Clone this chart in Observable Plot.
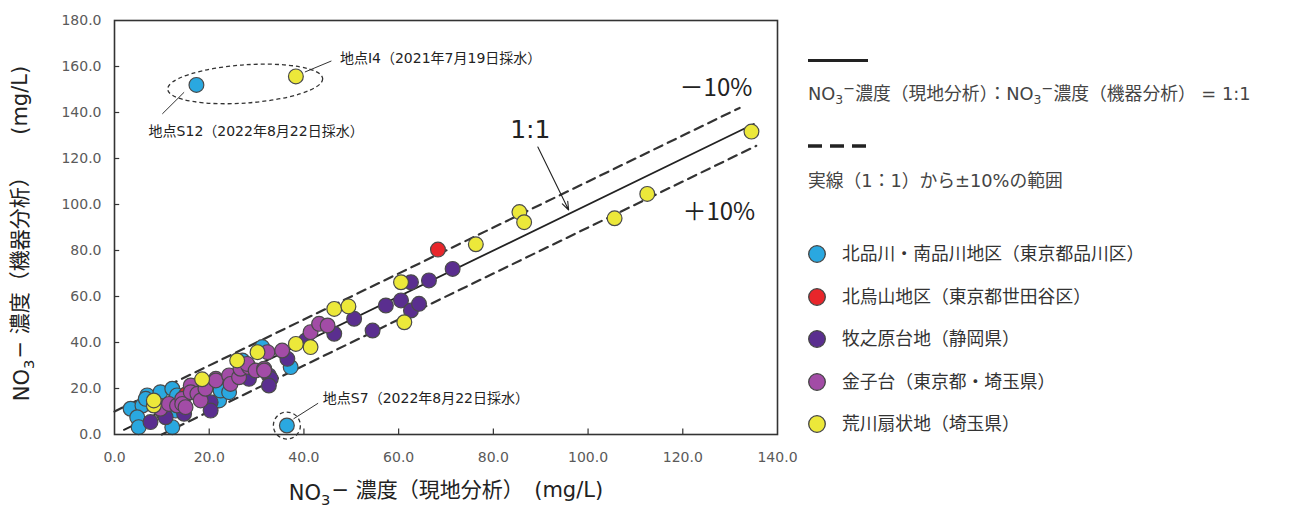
<!DOCTYPE html>
<html><head><meta charset="utf-8">
<script src="https://cdn.jsdelivr.net/npm/d3@7"></script>
<script src="https://cdn.jsdelivr.net/npm/@observablehq/plot@0.6"></script>
<style>
body{margin:0;background:#fff;}
#wrap{position:relative;width:1298px;height:508px;overflow:hidden;}
#legend{position:absolute;left:0;top:0;font-family:"DejaVu Sans","Noto Sans CJK JP",sans-serif;color:#444;}
.lt{position:absolute;white-space:nowrap;font-size:17.8px;line-height:20px;}
.sw{position:absolute;}
sub{font-size:0.7em;vertical-align:-0.3em;line-height:0;}
</style>
</head><body>
<div id="wrap"><div id="chart"></div><div id="legend"></div></div>
<script>
// ---- data ----
const xTicks = [0, 20, 40, 60, 80, 100, 120, 140];
const yTicks = [0, 20, 40, 60, 80, 100, 120, 140, 160, 180];
const groupNames = ["北品川・南品川地区（東京都品川区）", "北烏山地区（東京都世田谷区）", "牧之原台地（静岡県）", "金子台（東京都・埼玉県）", "荒川扇状地（埼玉県）"];
const groupColors = ["#2aa8e0", "#e8262b", "#5a2e8f", "#a24ca6", "#ece83a"];
const shinagawa = [[3.4,11.2],[5.9,12.6],[4.8,7.5],[5.1,3.2],[6.9,17.0],[6.6,15.5],[9.7,18.4],[12.2,19.9],[12.2,3.2],[12.9,10.4],[13.2,17.0],[18.2,22.7],[22.1,14.8],[22.4,19.1],[24.2,18.4],[27.0,32.2],[31.2,38.0],[37.2,29.3],[36.4,3.9],[17.3,152.0]];
const kitakarasuyama = [[15.2,17.6],[68.3,80.4]];
const makinohara = [[7.6,5.4],[10.4,9.0],[10.8,7.5],[14.7,9.0],[20.3,14.0],[20.3,10.4],[28.0,25.7],[32.6,25.7],[33.0,24.2],[32.6,21.3],[28.4,24.2],[36.5,32.9],[40.4,40.9],[46.4,43.8],[50.6,50.3],[54.5,45.2],[57.3,56.1],[60.5,58.3],[62.6,53.9],[64.3,56.8],[62.6,66.2],[66.4,67.0],[71.4,72.0]];
const kanekodai = [[9.4,12.6],[9.7,11.2],[11.5,13.3],[13.2,12.6],[14.3,15.5],[14.3,13.3],[15.0,11.9],[16.1,21.3],[16.1,18.4],[17.5,17.7],[18.2,14.8],[19.2,19.9],[21.4,24.2],[21.4,23.5],[24.2,25.7],[24.5,22.0],[26.3,24.9],[26.6,28.6],[28.4,29.3],[28.0,30.7],[29.8,27.8],[31.6,28.6],[31.6,27.8],[32.3,35.8],[35.4,36.5],[41.4,44.5],[43.2,48.1],[45.0,47.4]];
const arakawa = [[8.3,12.6],[8.3,14.8],[18.5,24.0],[25.9,32.2],[30.2,35.8],[38.3,39.4],[41.4,38.0],[46.4,54.6],[49.4,55.7],[60.5,66.2],[61.2,48.8],[76.3,82.7],[85.5,96.7],[86.5,92.3],[105.6,94.0],[112.5,104.6],[134.5,131.7],[38.3,155.7]];
const groups = [shinagawa, kitakarasuyama, makinohara, kanekodai, arakawa];
const lineSolid = [[2, 2], [135, 135]];
const lineUpper = [[0, 10], [132, 142]];
const lineLower = [[10, 0], [135.5, 125.5]];

// ---- table ----
const table = groups.flatMap((g, i) => g.map(([x, y]) => ({x, y, group: groupNames[i]})));
const toXY = a => a.map(([x, y]) => ({x, y}));

// ellipse around S12 & I4 (custom mark using scales)
function ellipseMark(index, scales) {
  const cx = 27.7, cy = 152.2, ax = 16.4, by = 8.3;
  const px = scales.x(cx), py = scales.y(cy);
  const rx = scales.x(cx + ax) - px, ry = py - scales.y(cy + by);
  const el = document.createElementNS("http://www.w3.org/2000/svg", "ellipse");
  el.setAttribute("cx", px); el.setAttribute("cy", py);
  el.setAttribute("rx", rx); el.setAttribute("ry", ry);
  el.setAttribute("transform", `rotate(-4 ${px} ${py})`);
  el.setAttribute("fill", "none"); el.setAttribute("stroke", "#333");
  el.setAttribute("stroke-width", 1.3); el.setAttribute("stroke-dasharray", "4,3");
  return el;
}

const jp = "Noto Sans CJK JP";
const mixed = "DejaVu Sans, Noto Sans CJK JP";
const chart = Plot.plot({
  width: 1298, height: 508,
  marginLeft: 114, marginRight: 521, marginTop: 20, marginBottom: 74,
  x: {domain: [0, 140]},
  y: {domain: [0, 180]},
  color: {domain: groupNames, range: groupColors},
  style: {fontFamily: "DejaVu Sans", fontSize: "13px", color: "#555", background: "#fff"},
  marks: [
    Plot.axisX(xTicks, {tickSize: 0, tickPadding: 18, tickFormat: d => d.toFixed(1), label: null, fill: "#5a5a5a"}),
    Plot.axisY(yTicks, {tickSize: 0, tickPadding: 13, tickFormat: d => d.toFixed(1), label: null, fill: "#5a5a5a"}),
    Plot.ruleX(xTicks.slice(1, -1), {x: d => d, y1: 0, y2: 2.4, stroke: "#333", strokeWidth: 1.2}),
    Plot.ruleY(yTicks.slice(1, -1), {y: d => d, x1: 0, x2: 1.1, stroke: "#333", strokeWidth: 1.2}),
    Plot.line(toXY(lineUpper), {x: "x", y: "y", stroke: "#333", strokeWidth: 2.2, strokeDasharray: "9,6"}),
    Plot.line(toXY(lineLower), {x: "x", y: "y", stroke: "#333", strokeWidth: 2.2, strokeDasharray: "9,6"}),
    Plot.line(toXY(lineSolid), {x: "x", y: "y", stroke: "#222", strokeWidth: 1.8}),
    ellipseMark,
    Plot.dot([{x: 36.4, y: 3.9}], {x: "x", y: "y", r: 13.5, stroke: "#333", strokeWidth: 1.3, strokeDasharray: "4,3", fill: "none"}),
    Plot.link([{x1: 40.2, y1: 157.6, x2: 45.8, y2: 162.4}, {x1: 14.7, y1: 148.8, x2: 10.1, y2: 139.4}, {x1: 37.8, y1: 6.8, x2: 43.0, y2: 13.6}],
      {x1: "x1", y1: "y1", x2: "x2", y2: "y2", stroke: "#333", strokeWidth: 1}),
    Plot.dot(table, {x: "x", y: "y", fill: "group", stroke: "#4a4a4a", strokeWidth: 1.2, r: 7.4}),
    Plot.arrow([{x1: 89.4, y1: 125.0, x2: 95.9, y2: 97.6}], {x1: "x1", y1: "y1", x2: "x2", y2: "y2", stroke: "#222", strokeWidth: 1.1, headLength: 12, headAngle: 40}),
    Plot.text([{x: 47.6, y: 163.6, t: "地点I4（2021年7月19日採水）"}, {x: 7.2, y: 131.6, t: "地点S12（2022年8月22日採水）"}, {x: 44.0, y: 15.6, t: "地点S7（2022年8月22日採水）"}],
      {x: "x", y: "y", text: "t", textAnchor: "start", fontFamily: mixed, fontSize: 14, fill: "#222"}),
    Plot.text([{x: 87.8, y: 132.2, t: "1:1"}], {x: "x", y: "y", text: "t", fontFamily: mixed, fontSize: 25, fill: "#222", letterSpacing: 1}),
    Plot.text([{x: 127.0, y: 150.5, t: "－10%"}, {x: 127.6, y: 96.5, t: "＋10%"}], {x: "x", y: "y", text: "t", fontFamily: jp, fontSize: 24, fill: "#222"}),
    Plot.text(["NO3− 濃度（現地分析）　(mg/L)"], {frameAnchor: "bottom", dy: 65, textAnchor: "middle", fontFamily: mixed, fontSize: 21, fill: "#222"}),
    Plot.text(["NO3− 濃度（機器分析）　　(mg/L)"], {frameAnchor: "left", rotate: -90, dx: -92, dy: 6, textAnchor: "middle", fontFamily: mixed, fontSize: 21, fill: "#222"}),
    Plot.frame({stroke: "#333", strokeWidth: 1.6})
  ]
});
document.getElementById("chart").appendChild(chart);

// tick label size
d3.select(chart).selectAll('g[aria-label$="tick label"] text')
  .attr("font-size", 14).style("font-size", "14px");

// subscript formatting for NO3−
d3.select(chart).selectAll("text").each(function() {
  const t = this.textContent;
  if (t.startsWith("NO3−")) {
    const rest = t.slice(4);
    const s = d3.select(this); s.text(null);
    s.append("tspan").text("NO");
    s.append("tspan").attr("font-size", "0.7em").attr("dy", "0.35em").text("3");
    s.append("tspan").attr("dy", "-0.35em").attr("dx", "1").text("−");
    s.append("tspan").attr("dy", "0").text(rest);
  }
});

// ---- legend (HTML) ----
const lg = d3.select("#legend");
lg.append("div").attr("class", "sw").style("left", "808px").style("top", "59px").style("width", "60px").style("height", "3px").style("background", "#222");
lg.append("div").attr("class", "lt").style("left", "808px").style("top", "78px").html("NO<sub>3</sub><sup style='font-size:0.8em'>−</sup>濃度（現地分析）：NO<sub>3</sub><sup style='font-size:0.8em'>−</sup>濃度（機器分析） = 1:1");
lg.append("svg").attr("class", "sw").style("left", "808px").style("top", "143px").attr("width", 60).attr("height", 6)
  .append("line").attr("x1", 0).attr("x2", 58).attr("y1", 3).attr("y2", 3).attr("stroke", "#222").attr("stroke-width", 3.5).attr("stroke-dasharray", "14,8");
lg.append("div").attr("class", "lt").style("left", "808px").style("top", "171px").text("実線（1：1）から±10%の範囲");
groupNames.forEach((n, i) => {
  const cy = 254 + i * 42.6;
  lg.append("svg").attr("class", "sw").style("left", "807px").style("top", (cy - 10) + "px").attr("width", 20).attr("height", 20)
    .append("circle").attr("cx", 10).attr("cy", 10).attr("r", 8.3).attr("fill", groupColors[i]).attr("stroke", "#444").attr("stroke-width", 1.3);
  lg.append("div").attr("class", "lt").style("left", "842px").style("top", (cy - 10) + "px").style("color", "#333").text(n);
});
</script>
</body></html>
